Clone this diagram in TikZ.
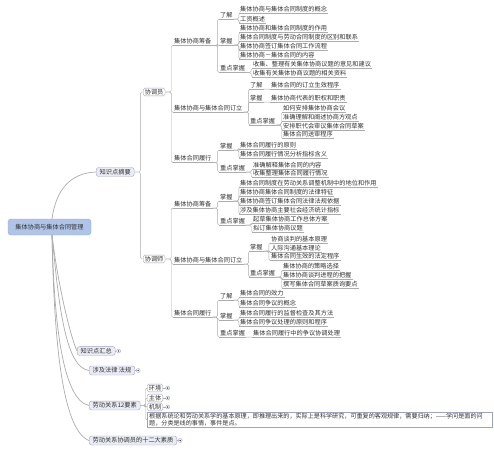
\documentclass[tikz,border=0pt]{standalone}
\usepackage{fontspec}
\newfontfamily\cjk{Noto Sans CJK SC}
\usepackage{tikz}
\usetikzlibrary{positioning}
\definecolor{ink}{RGB}{51,51,51}
\definecolor{wire}{RGB}{172,172,172}
\definecolor{rootfill}{RGB}{176,196,232}
\definecolor{rootline}{RGB}{150,172,214}
\definecolor{topicfill}{RGB}{234,236,245}
\definecolor{topicline}{RGB}{160,164,186}

\begin{document}
\begin{tikzpicture}[x=1pt, y=-1pt,
  txt/.style={font=\cjk\fontsize{6.2}{7.4}\selectfont, text=ink},
  root/.style={txt, fill=rootfill, draw=rootline, rounded corners=3pt, minimum width=83pt, minimum height=16pt, inner sep=1pt},
  topic/.style={txt, fill=topicfill, draw=topicline, rounded corners=2.5pt, inner xsep=3.5pt, inner ysep=1.6pt, anchor=west},
  sub/.style={txt, fill=white, draw=topicline, rounded corners=1.5pt, inner xsep=1.6pt, inner ysep=1pt, anchor=west},
  item/.style={txt, inner sep=1pt, anchor=west, append after command={(\tikzlastnode.south west) edge[draw=wire] (\tikzlastnode.south east)}},
  note/.style={txt, draw=topicline, fill=white, inner xsep=2pt, inner ysep=1.2pt, text width=341pt, align=left, anchor=west, font=\cjk\fontsize{6.1}{7}\selectfont},
  fold/.style={circle, draw=topicline, fill=white, inner sep=0pt, minimum size=4pt, path picture={\fill[ink] (path picture bounding box.center) circle (0.8pt);}},
  branch/.style={draw=wire, rounded corners=1.5pt},
  curve/.style={draw=wire, line width=0.7pt},
]
  \path[use as bounding box, fill=white] (0,0) rectangle (494,455);

  \node[root] (root) at (49.5,227) {集体协商与集体合同管理};

  \node[topic] (zs) at (96,172) {知识点摘要};
  \node[topic] (hz) at (77,351) {知识点汇总};
  \node[topic] (fg) at (89,370.5) {涉及法律 法规};
  \node[topic] (ys) at (89,405.5) {劳动关系12要素};
  \node[topic] (sz) at (89,440.5) {劳动关系协调员的十二大素质};

  \node[sub] (ky) at (143,92) {协调员};
  \node[sub] (ks) at (143,259) {协调师};

  \node[item] (a1) at (173,41.5) {集体协商筹备};
  \node[item] (a1x) at (219,15) {了解};
  \node[item] (a1x1) at (239,9) {集体协商与集体合同制度的概念};
  \node[item] (a1x2) at (239,19) {工资概述};
  \node[item] (a1z) at (219,41) {掌握};
  \node[item] (a1z1) at (239,28.5) {集体协商和集体合同制度的作用};
  \node[item] (a1z2) at (239,37.5) {集体合同制度与劳动合同制度的区别和联系};
  \node[item] (a1z3) at (239,46) {集体协商签订集体合同工作流程};
  \node[item] (a1z4) at (239,55) {集体协商－集体合同的内容};
  \node[item] (a1k) at (219,68.5) {重点掌握};
  \node[item] (a1k1) at (252,64) {收集、整理有关集体协商议题的意见和建议};
  \node[item] (a1k2) at (252,73) {收集有关集体协商议题的相关资料};

  \node[item] (a2) at (173,108) {集体协商与集体合同订立};
  \node[item] (a2x) at (249,85) {了解};
  \node[item] (a2x1) at (270,85) {集体合同的订立生效程序};
  \node[item] (a2z) at (249,98) {掌握};
  \node[item] (a2z1) at (270,98) {集体协商代表的职权和职责};
  \node[item] (a2k) at (249,121) {重点掌握};
  \node[item] (a2k1) at (282,108.5) {如何安排集体协商会议};
  \node[item] (a2k2) at (282,117) {准确理解和阐述协商方观点};
  \node[item] (a2k3) at (282,126) {安排职代会审议集体合同草案};
  \node[item] (a2k4) at (282,134.5) {集体合同送审程序};

  \node[item] (a3) at (173,158.5) {集体合同履行};
  \node[item] (a3z) at (219,146) {掌握};
  \node[item] (a3z1) at (239,145) {集体合同履行的原则};
  \node[item] (a3z2) at (239,154) {集体合同履行情况分析指标含义};
  \node[item] (a3k) at (219,168) {重点掌握};
  \node[item] (a3k1) at (252,165) {准确解释集体合同的内容};
  \node[item] (a3k2) at (252,173.5) {收集整理集体合同履行情况};

  \node[item] (b1) at (173,204) {集体协商筹备};
  \node[item] (b1z) at (219,197) {掌握};
  \node[item] (b1z1) at (239,183) {集体合同制度在劳动关系调整机制中的地位和作用};
  \node[item] (b1z2) at (239,192) {集体协商集体合同制度的法律特征};
  \node[item] (b1z3) at (239,201) {集体协商签订集体合同法律法规依据};
  \node[item] (b1z4) at (239,210) {涉及集体协商主要社会经济统计指标};
  \node[item] (b1k) at (219,221) {重点掌握};
  \node[item] (b1k1) at (252,219) {起草集体协商工作总体方案};
  \node[item] (b1k2) at (252,228) {拟订集体协商议题};

  \node[item] (b2) at (173,260) {集体协商与集体合同订立};
  \node[item] (b2z) at (249,247) {掌握};
  \node[item] (b2z1) at (270,239) {协商谈判的基本原理};
  \node[item] (b2z2) at (270,248) {人际沟通基本理论};
  \node[item] (b2z3) at (270,256.5) {集体合同生效的法定程序};
  \node[item] (b2k) at (249,273) {重点掌握};
  \node[item] (b2k1) at (282,266.5) {集体协商的策略选择};
  \node[item] (b2k2) at (282,275) {集体协商谈判进程的把握};
  \node[item] (b2k3) at (282,284) {撰写集体合同草案质询要点};

  \node[item] (b3) at (173,313) {集体合同履行};
  \node[item] (b3x) at (219,296) {了解};
  \node[item] (b3x1) at (239,293) {集体合同的效力};
  \node[item] (b3x2) at (239,303) {集体合同争议的概念};
  \node[item] (b3z) at (219,316) {掌握};
  \node[item] (b3z1) at (239,313) {集体合同履行的监督检查及其方法};
  \node[item] (b3z2) at (239,322) {集体合同争议处理的原则和程序};
  \node[item] (b3k) at (219,333) {重点掌握};
  \node[item] (b3k1) at (252,333) {集体合同履行中的争议协调处理};

  \node[sub] (hj) at (147,388) {环境};
  \node[sub] (zt) at (147,398) {主体};
  \node[sub] (jz) at (147,407) {机制};
  \node[note] (nt) at (147,420) {根据系统论和劳动关系学的基本原理，即推理出来的，实际上是科学研究，可重复的客观规律，需要归纳；——学问是面的问\\题，分类是线的事情，事件是点。};

  \node[fold, right=1pt of hz] (hzf) {};
  \node[fold, right=1pt of fg] (fgf) {};
  \node[fold, right=1pt of sz] (szf) {};
  \node[fold, right=2.5pt of hj] (hjf) {};
  \node[fold, right=2.5pt of zt] (ztf) {};
  \node[fold, right=2.5pt of jz] (jzf) {};
  \foreach \n in {hz,fg,sz,hj,zt,jz} \draw[wire] (\n) -- (\n f);

  \draw[curve] ([xshift=2.5pt]root.north) .. controls (56,190) and (70,173) .. (zs.west);
  \draw[curve] ([xshift=2.5pt]root.south) .. controls (58,285) and (70,335) .. (hz.west);
  \draw[curve] ([xshift=2.5pt]root.south) .. controls (58,295) and (64,368) .. (fg.west);
  \draw[curve] ([xshift=2.5pt]root.south) .. controls (54,320) and (62,400) .. (ys.west);
  \draw[curve] ([xshift=2.5pt]root.south) .. controls (54,340) and (62,430) .. (sz.west);

  \foreach \c in {ky,ks} \draw[branch] (zs.east) -- ++(6,0) |- (\c.west);
  \foreach \c in {a1,a2,a3} \draw[branch] (ky.east) -- ++(6,0) |- (\c.south west);
  \foreach \c in {b1,b2,b3} \draw[branch] (ks.east) -- ++(6,0) |- (\c.south west);
  \foreach \c in {hj,zt,jz,nt} \draw[branch] (ys.east) -- ++(5,0) |- (\c.west);

  \foreach \c in {a1x,a1z,a1k} \draw[branch] (a1.south east) -- ++(5,0) |- (\c.south west);
  \foreach \c in {a1x1,a1x2} \draw[branch] (a1x.south east) -- ++(5,0) |- (\c.south west);
  \foreach \c in {a1z1,a1z2,a1z3,a1z4} \draw[branch] (a1z.south east) -- ++(5,0) |- (\c.south west);
  \foreach \c in {a1k1,a1k2} \draw[branch] (a1k.south east) -- ++(5,0) |- (\c.south west);

  \foreach \c in {a2x,a2z,a2k} \draw[branch] (a2.south east) -- ++(5,0) |- (\c.south west);
  \draw[branch] (a2x.south east) -- (a2x1.south west);
  \draw[branch] (a2z.south east) -- (a2z1.south west);
  \foreach \c in {a2k1,a2k2,a2k3,a2k4} \draw[branch] (a2k.south east) -- ++(5,0) |- (\c.south west);

  \foreach \c in {a3z,a3k} \draw[branch] (a3.south east) -- ++(5,0) |- (\c.south west);
  \foreach \c in {a3z1,a3z2} \draw[branch] (a3z.south east) -- ++(5,0) |- (\c.south west);
  \foreach \c in {a3k1,a3k2} \draw[branch] (a3k.south east) -- ++(5,0) |- (\c.south west);

  \foreach \c in {b1z,b1k} \draw[branch] (b1.south east) -- ++(5,0) |- (\c.south west);
  \foreach \c in {b1z1,b1z2,b1z3,b1z4} \draw[branch] (b1z.south east) -- ++(5,0) |- (\c.south west);
  \foreach \c in {b1k1,b1k2} \draw[branch] (b1k.south east) -- ++(5,0) |- (\c.south west);

  \foreach \c in {b2z,b2k} \draw[branch] (b2.south east) -- ++(5,0) |- (\c.south west);
  \foreach \c in {b2z1,b2z2,b2z3} \draw[branch] (b2z.south east) -- ++(5,0) |- (\c.south west);
  \foreach \c in {b2k1,b2k2,b2k3} \draw[branch] (b2k.south east) -- ++(5,0) |- (\c.south west);

  \foreach \c in {b3x,b3z,b3k} \draw[branch] (b3.south east) -- ++(5,0) |- (\c.south west);
  \foreach \c in {b3x1,b3x2} \draw[branch] (b3x.south east) -- ++(5,0) |- (\c.south west);
  \foreach \c in {b3z1,b3z2} \draw[branch] (b3z.south east) -- ++(5,0) |- (\c.south west);
  \draw[branch] (b3k.south east) -- (b3k1.south west);
\end{tikzpicture}
\end{document}
